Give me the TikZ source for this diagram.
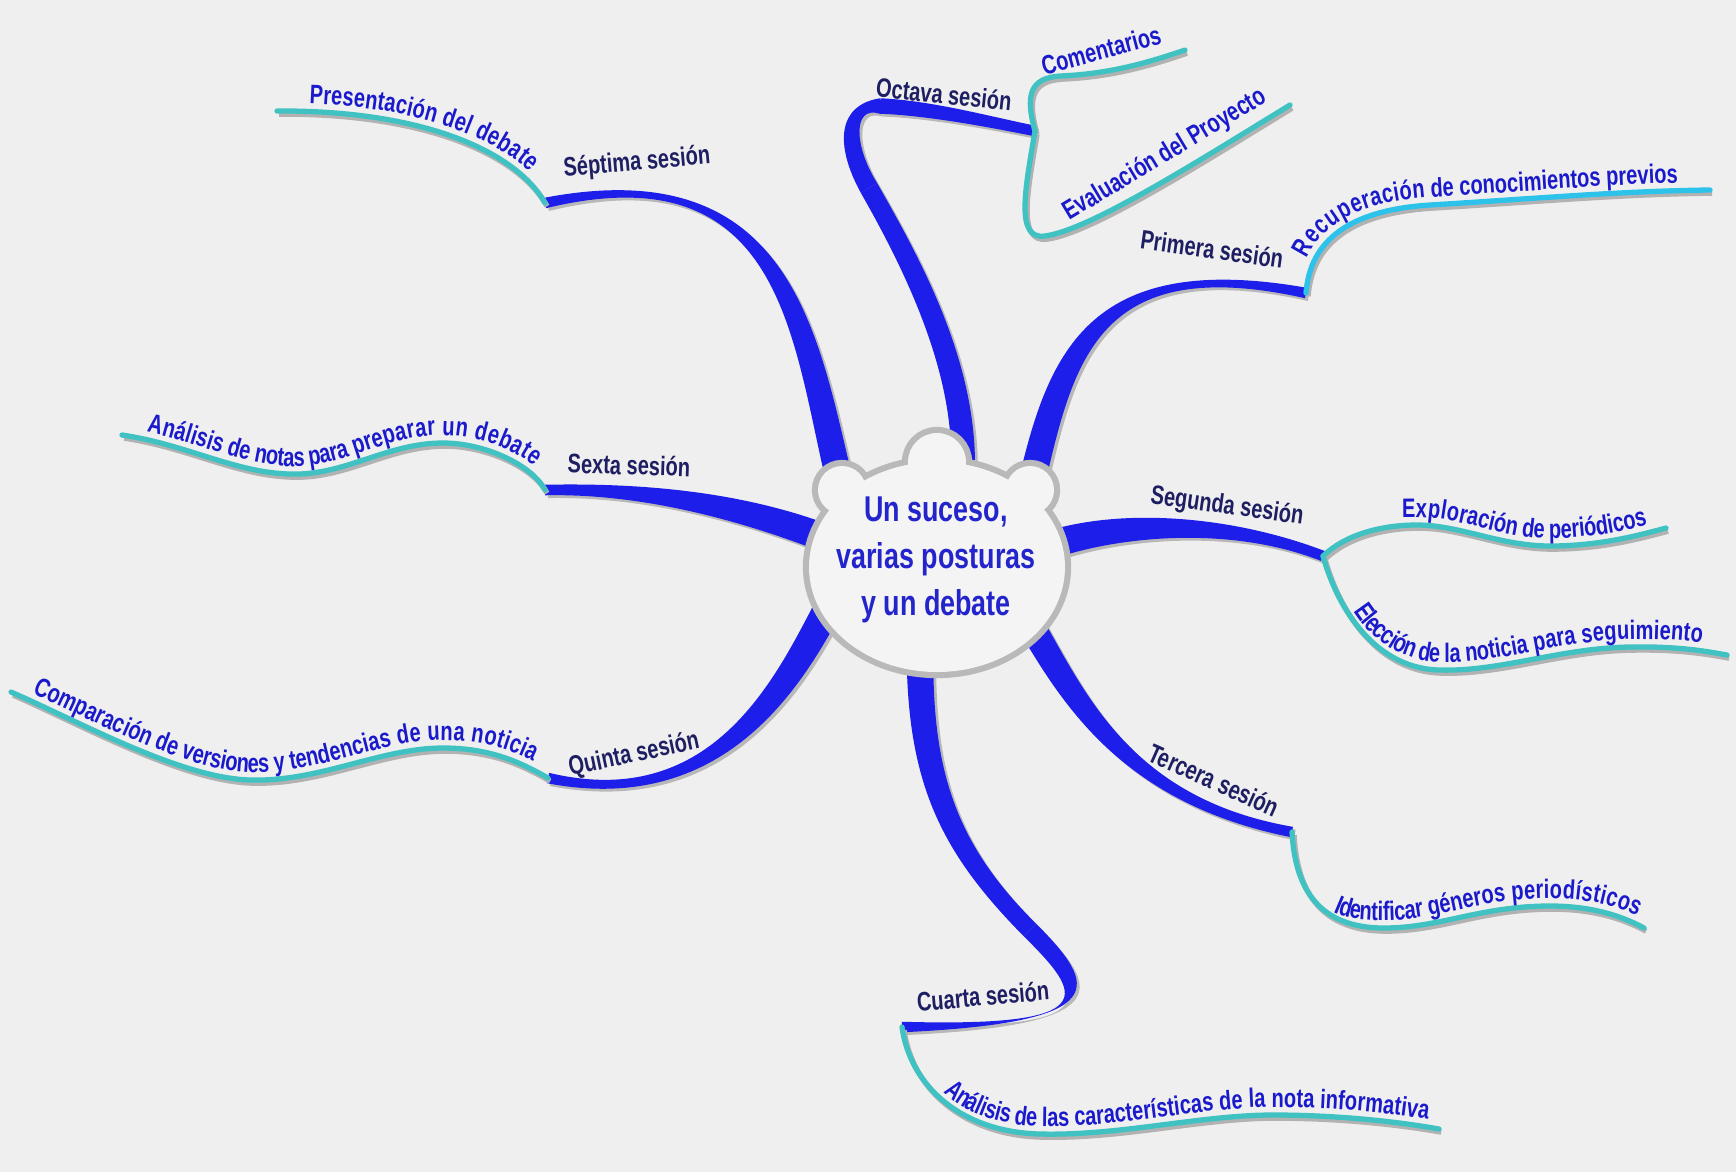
\documentclass[tikz,border=0pt]{standalone}
\usepackage{fontspec}
\newfontfamily\mapfont[FakeStretch=0.75]{Liberation Sans}
\usetikzlibrary{calc}
\usetikzlibrary{decorations.text}

\definecolor{paper}{HTML}{EFEFEF}
\definecolor{branchblue}{HTML}{1E1EEA}
\definecolor{leafcyan}{HTML}{40C2C2}
\definecolor{leafsky}{HTML}{2CC2EA}
\definecolor{leafblue}{HTML}{1A1ACC}
\definecolor{sessionnavy}{HTML}{1E1E62}
\definecolor{hubblue}{HTML}{2424CC}

\newcommand\leaffont{\mapfont\bfseries\fontsize{7.6}{9}\selectfont}
\newcommand\sessionfont{\mapfont\bfseries\fontsize{7.6}{9}\selectfont}
\newcommand\hubfont{\mapfont\bfseries\fontsize{10.2}{13.4}\selectfont}

\tikzset{
    branch/.style={fill=branchblue},
    shade/.style={fill=black!28, transform canvas={xshift=0.8pt, yshift=-0.8pt}},
    leafline/.style={draw=leafcyan, line width=1.5pt, line cap=round, preaction={draw=black!30, line width=1.5pt, transform canvas={xshift=0.6pt, yshift=-0.9pt}}},
    session/.style={font=\sessionfont, text=sessionnavy, inner sep=1pt},
    leaftext/.style={font=\leaffont, text=leafblue, inner sep=1pt},
    leaflabel/.style={decorate, decoration={text along path, text align=center, raise=2.2pt, text color=leafblue, text={|\leaffont|#1}}},
    hub/.style={align=center, font=\hubfont, text=hubblue},
    blob/.style={fill=gray!9, preaction={draw=gray!55, line width=3.5pt}}
}

% tapered branch: look, start, control, control, end, half width at start, half width at end
\newcommand\branch[7]{%
  \fill[#1] ($(#2)!#6!90:(#3)$) .. controls ($(#3)!#6!90:(#4)$) and ($(#4)!#7!-90:(#3)$) .. ($(#5)!#7!-90:(#4)$)
    -- ($(#5)!#7!90:(#4)$) .. controls ($(#4)!#7!90:(#3)$) and ($(#3)!#6!-90:(#4)$) .. ($(#2)!#6!-90:(#3)$) -- cycle;}

\begin{document}
\begin{tikzpicture}[x=0.01cm, y=-0.01cm]
\useasboundingbox (0,0) rectangle (1736,1172);
\fill[paper] (0,0) rectangle (1736,1172);

\coordinate (s1) at (1030,490);
\coordinate (e1) at (1306,293);
\coordinate (l1) at (1710,190);
\coordinate (s2) at (1050,545);
\coordinate (e2) at (1323,556);
\coordinate (l2a) at (1666,528);
\coordinate (l2b) at (1727,655);
\coordinate (s3) at (1025,615);
\coordinate (e3) at (1292,832);
\coordinate (l3) at (1644,928);
\coordinate (s4) at (920,655);
\coordinate (m4) at (1030,930);
\coordinate (e4) at (902,1027);
\coordinate (l4) at (1439,1129);
\coordinate (s5) at (832,600);
\coordinate (e5) at (548,778);
\coordinate (l5) at (11,692);
\coordinate (s6) at (830,540);
\coordinate (e6) at (545,490);
\coordinate (l6) at (122,435);
\coordinate (s7) at (841,487);
\coordinate (e7) at (545,203);
\coordinate (l7) at (277,111);
\coordinate (s8) at (963,460);
\coordinate (m8a) at (869,188);
\coordinate (m8b) at (880,106);
\coordinate (e8) at (1035,131);
\coordinate (l8a) at (1185,50);
\coordinate (l8b) at (1290,105);

% sessions, shadow first
\foreach \look in {shade,branch}{
  \branch{\look}{s1}{1060,360}{1090,250}{e1}{3.8pt}{1.5pt}
  \branch{\look}{s2}{1120,522}{1230,520}{e2}{4pt}{1.5pt}
  \branch{\look}{s3}{1070,690}{1120,800}{e3}{3.8pt}{1.5pt}
  \branch{\look}{s4}{920,780}{950,850}{m4}{3.8pt}{2.5pt}
  \branch{\look}{m4}{1090,990}{1110,1025}{e4}{2.5pt}{1.5pt}
  \branch{\look}{s5}{790,680}{720,815}{e5}{4pt}{1.5pt}
  \branch{\look}{s6}{740,505}{640,488}{e6}{4pt}{1.5pt}
  \branch{\look}{s7}{805,340}{790,150}{e7}{3.8pt}{1.5pt}
  \branch{\look}{s8}{963,360}{910,260}{m8a}{3.4pt}{2.7pt}
  \branch{\look}{m8a}{844,145}{845,105}{m8b}{2.7pt}{2.2pt}
  \branch{\look}{m8b}{930,108}{990,122}{e8}{2.2pt}{1.5pt}
}

% activities
\draw[leafline, draw=leafsky] (e1) .. controls (1310,240) and (1350,210) .. (1430,205) .. controls (1530,199) and (1620,191) .. (l1);
\draw[leafline] (e2) .. controls (1345,535) and (1380,525) .. (1417,525) .. controls (1460,525) and (1500,546) .. (1550,546) .. controls (1600,546) and (1640,535) .. (l2a);
\draw[leafline] (e2) .. controls (1335,600) and (1370,668) .. (1439,670) .. controls (1500,672) and (1560,648) .. (1630,647) .. controls (1680,646) and (1710,652) .. (l2b);
\draw[leafline] (e3) .. controls (1295,890) and (1320,928) .. (1384,928) .. controls (1440,928) and (1480,906) .. (1550,906) .. controls (1590,906) and (1620,915) .. (l3);
\draw[leafline] (e4) .. controls (910,1085) and (960,1132) .. (1040,1134) .. controls (1120,1136) and (1200,1115) .. (1273,1115) .. controls (1340,1115) and (1400,1122) .. (l4);
\draw[leafline] (l5) .. controls (80,722) and (180,778) .. (250,780) .. controls (320,782) and (380,748) .. (443,748) .. controls (490,748) and (520,762) .. (e5);
\draw[leafline] (l6) .. controls (190,445) and (240,476) .. (300,474) .. controls (350,472) and (390,443) .. (443,443) .. controls (485,443) and (532,465) .. (e6);
\draw[leafline] (l7) .. controls (420,110) and (515,150) .. (e7);
\draw[leafline] (e8) .. controls (1025,95) and (1030,78) .. (1060,76) .. controls (1110,74) and (1150,62) .. (l8a);
\draw[leafline] (e8) .. controls (1025,190) and (1015,240) .. (1045,236) .. controls (1090,230) and (1200,160) .. (l8b);

\path[blob] (937,567) ellipse [x radius=128, y radius=105] (842,490) circle [radius=24] (937,462) circle [radius=29] (1030,490) circle [radius=24];
\node[hub] (hub) at (936,560) {Un suceso,\\varias posturas\\y un debate};

\node[session, rotate=-8] (n1) at (1212,249) {Primera sesión};
\node[session, rotate=-8] (n2) at (1227,507) {Segunda sesión};
\node[session, rotate=-24] (n3) at (1214,780) {Tercera sesión};
\node[session, rotate=5] (n4) at (983,996) {Cuarta sesión};
\node[session, rotate=12] (n5) at (634,755) {Quinta sesión};
\node[session, rotate=-2] (n6) at (629,465) {Sexta sesión};
\node[session, rotate=5] (n7) at (637,163) {Séptima sesión};
\node[session, rotate=-6] (n8) at (944,94) {Octava sesión};

\path[leaflabel={Recuperación de conocimientos previos}] (e1) .. controls (1310,240) and (1350,210) .. (1430,205) .. controls (1530,199) and (1620,191) .. (l1);
\path[leaflabel={Exploración de periódicos}] (1385,526) .. controls (1395,525) and (1405,525) .. (1417,525) .. controls (1460,525) and (1500,546) .. (1550,546) .. controls (1600,546) and (1640,535) .. (l2a);
\path[leaflabel={Elección de la noticia para seguimiento}] (1335,592) .. controls (1350,630) and (1385,668) .. (1439,670) .. controls (1500,672) and (1560,648) .. (1630,647) .. controls (1680,646) and (1710,652) .. (l2b);
\path[leaflabel={Identificar géneros periodísticos}] (1322,915) .. controls (1340,927) and (1360,928) .. (1384,928) .. controls (1440,928) and (1480,906) .. (1550,906) .. controls (1590,906) and (1620,915) .. (l3);
\path[leaflabel={Análisis de las características de la nota informativa}] (931,1089) .. controls (950,1115) and (990,1133) .. (1040,1134) .. controls (1120,1136) and (1200,1115) .. (1273,1115) .. controls (1340,1115) and (1400,1122) .. (l4);
\path[leaflabel={Comparación de versiones y tendencias de una noticia}] (l5) .. controls (80,722) and (180,778) .. (250,780) .. controls (320,782) and (380,748) .. (443,748) .. controls (490,748) and (520,762) .. (e5);
\path[leaflabel={Análisis de notas para preparar un debate}] (l6) .. controls (190,445) and (240,476) .. (300,474) .. controls (350,472) and (390,443) .. (443,443) .. controls (485,443) and (532,465) .. (e6);
\path[leaflabel={Presentación del debate}] (l7) .. controls (420,110) and (515,150) .. (e7);
\node[leaftext, rotate=15] (t8a) at (1101,50) {Comentarios};
\node[leaftext, rotate=31] (t8b) at (1165,155) {Evaluación del Proyecto};

\end{tikzpicture}
\end{document}
